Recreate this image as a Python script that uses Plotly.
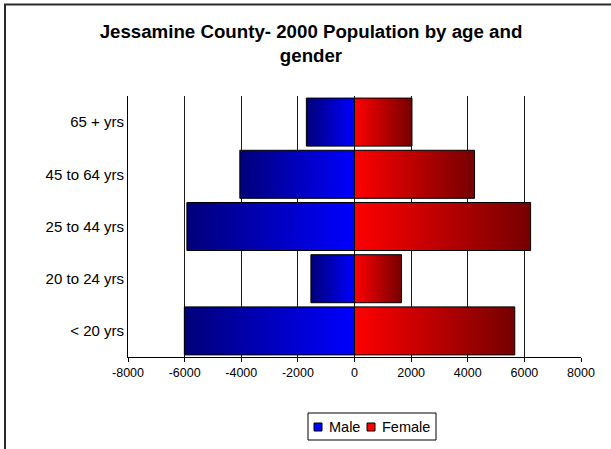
import plotly.graph_objects as go

# Jessamine County, 2000 census: population by age group and gender
age_groups = ["< 20 yrs", "20 to 24 yrs", "25 to 44 yrs", "45 to 64 yrs", "65 + yrs"]
male = [-6010, -1540, -5920, -4050, -1700]
female = [5660, 1660, 6220, 4240, 2030]
x_ticks = [-8000, -6000, -4000, -2000, 0, 2000, 4000, 6000, 8000]

FONT = "Liberation Sans, Arial, sans-serif"
W, H = 611, 449
L, R, T, B = 128, 581, 96, 357   # plot area in page pixels
HALF = 0.46                      # half bar thickness in category units


def px(x):
    return (x - L) / (R - L)


def py(y):
    return (B - y) / (B - T)


def bar_trace(i, value, scale):
    lo, hi = (value, 0) if value < 0 else (0, value)
    return go.Scatter(
        x=[lo, hi, hi, lo, lo],
        y=[i - HALF, i - HALF, i + HALF, i + HALF, i - HALF],
        mode="lines",
        fill="toself",
        fillgradient=dict(type="horizontal", colorscale=scale),
        line=dict(color="#000000", width=1),
        showlegend=False,
        hoverinfo="skip",
    )


male_scale = [[0, "#00007a"], [1, "#0000ff"]]
female_scale = [[0, "#ff0000"], [1, "#760000"]]

fig = go.Figure()
for i, v in enumerate(male):
    fig.add_trace(bar_trace(i, v, male_scale))
for i, v in enumerate(female):
    fig.add_trace(bar_trace(i, v, female_scale))

fig.update_layout(
    width=W,
    height=H,
    margin=dict(l=L, r=W - R, t=T, b=H - B),
    paper_bgcolor="white",
    plot_bgcolor="white",
    font=dict(family=FONT, color="#000000"),
    showlegend=False,
    title=dict(
        text="<b>Jessamine County- 2000 Population by age and<br>gender</b>",
        font=dict(family=FONT, size=18.7, color="#000000"),
        xref="container", x=0.509, xanchor="center",
        yref="container", y=1 - 38 / H, yanchor="top",
    ),
    xaxis=dict(
        range=[-8000, 8000],
        tickvals=x_ticks,
        ticktext=[str(t) for t in x_ticks],
        showgrid=True, gridcolor="#1a1a1a", gridwidth=1,
        zeroline=False,
        showline=True, linecolor="#000000", linewidth=1,
        ticks="outside", ticklen=4, tickcolor="#000000",
        tickfont=dict(family=FONT, size=12.5, color="#000000"),
        fixedrange=True,
    ),
    yaxis=dict(
        range=[-0.5, 4.5],
        tickvals=list(range(len(age_groups))),
        ticktext=age_groups,
        showgrid=False, zeroline=False,
        showline=True, linecolor="#000000", linewidth=1,
        ticks="", ticklabelstandoff=0,
        tickfont=dict(family=FONT, size=15, color="#000000"),
        fixedrange=True,
    ),
)

# outer chart frame
fig.add_shape(type="rect", xref="paper", yref="paper",
              x0=px(5), x1=px(614), y0=py(453), y1=py(4.5),
              line=dict(color="#2b2b2b", width=2), fillcolor="rgba(0,0,0,0)",
              layer="above")

# legend box with swatches
fig.add_shape(type="rect", xref="paper", yref="paper",
              x0=px(308), x1=px(436), y0=py(440), y1=py(413),
              line=dict(color="#000000", width=1), fillcolor="white")
legend_items = [("Male", "#0000ff", 314, 327), ("Female", "#ff0000", 367, 380)]
for name, color, sx, tx in legend_items:
    fig.add_shape(type="rect", xref="paper", yref="paper",
                  x0=px(sx), x1=px(sx + 8), y0=py(431), y1=py(423),
                  line=dict(color="#000000", width=1), fillcolor=color)
    fig.add_annotation(text=name, xref="paper", yref="paper",
                       x=px(tx), y=py(427), xanchor="left", yanchor="middle",
                       showarrow=False,
                       font=dict(family=FONT, size=14.5, color="#000000"))

fig.write_html("out.html")
